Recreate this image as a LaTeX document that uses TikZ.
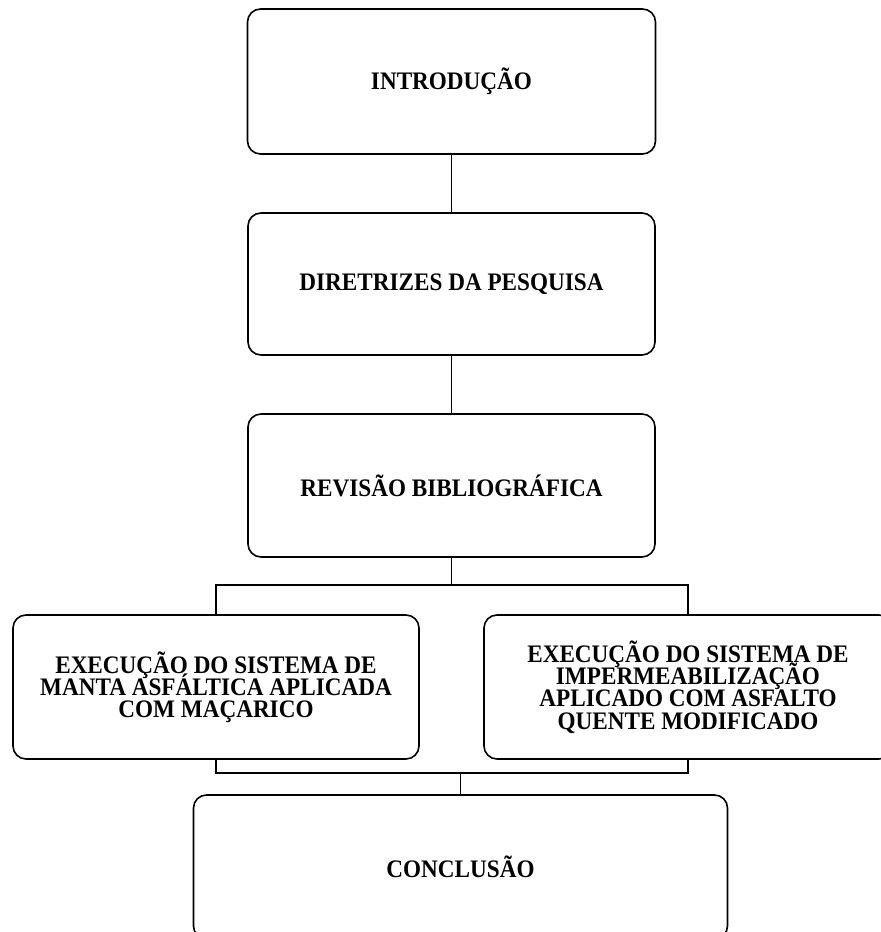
\documentclass[tikz,border=0pt]{standalone}
\usepackage{fontspec}
\setmainfont[FakeStretch=0.92]{Liberation Serif}
\usepackage{tikz}
\newcommand\etapafonte{\bfseries\fontsize{25.2}{22.2}\selectfont\lineskiplimit=-50pt\relax\lineskip=0pt\relax}

\begin{document}
\begin{tikzpicture}[x=1pt, y=-1pt,
        etapa/.style={draw, line width=1.6pt, rounded corners=13pt, align=center, inner sep=0pt,
                      font=\etapafonte},
        ligacao/.style={line width=1.3pt}]
                \useasboundingbox (0, 0) rectangle (881, 932);
                \clip (0, 0) rectangle (881, 932);
                \draw
                    (451.5,  81.5) node[etapa, minimum width = 408, minimum height = 145](intro){INTRODUÇÃO}
                    (451.5, 284.0) node[etapa, minimum width = 407, minimum height = 142](diretrizes){DIRETRIZES DA PESQUISA}
                    (451.5, 485.5) node[etapa, minimum width = 407, minimum height = 143](revisao){REVISÃO BIBLIOGRÁFICA}
                    (216.0, 687.0) node[etapa, minimum width = 406, minimum height = 144](manta){EXECUÇÃO DO SISTEMA DE\\MANTA ASFÁLTICA APLICADA\\COM MAÇARICO}
                    (688.0, 687.0) node[etapa, minimum width = 408, minimum height = 144](quente){EXECUÇÃO DO SISTEMA DE\\IMPERMEABILIZAÇÃO\\APLICADO COM ASFALTO\\QUENTE MODIFICADO}
                    (460.5, 867.0) node[etapa, minimum width = 534, minimum height = 144](conclusao){CONCLUSÃO}
                ;
                \coordinate (divide) at (451.5, 585);
                \coordinate (junta) at (460.5, 773);
                \draw [ligacao] (intro)      -- (diretrizes);
                \draw [ligacao] (diretrizes) -- (revisao);
                \draw [ligacao] (revisao)    -- (divide);
                \draw [ligacao] (manta.north) |- (divide) -| (quente.north);
                \draw [ligacao] (manta.south) |- (junta) -| (quente.south);
                \draw [ligacao] (junta)      -- (conclusao.north -| junta);
            \end{tikzpicture}
\end{document}
